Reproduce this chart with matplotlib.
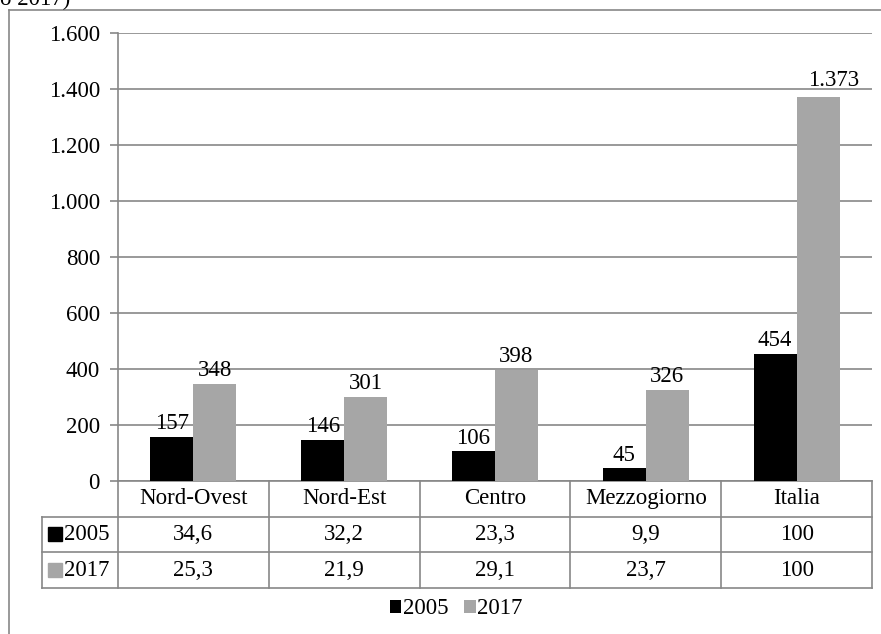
import matplotlib.pyplot as plt
from matplotlib.lines import Line2D
from matplotlib.patches import Rectangle

plt.rcParams['font.family'] = ['Liberation Serif', 'DejaVu Serif']
plt.rcParams['font.size'] = 16.5

regions = ['Nord-Ovest', 'Nord-Est', 'Centro', 'Mezzogiorno', 'Italia']
years = ['2005', '2017']
values_2005 = [157, 146, 106, 45, 454]
values_2017 = [348, 301, 398, 326, 1373]
share_2005 = ['34,6', '32,2', '23,3', '9,9', '100']
share_2017 = ['25,3', '21,9', '29,1', '23,7', '100']
yticks = [0, 200, 400, 600, 800, 1000, 1200, 1400, 1600]

black = '#000000'
grey = '#a6a6a6'
line_col = '#878787'
W, H = 881, 634


def fx(px):
    return px / W


def fy(py):
    return 1 - py / H


def it_num(v):
    return f'{v:,.0f}'.replace(',', '.')


fig = plt.figure(figsize=(8.81, 6.34), dpi=100)

# chart frame (runs past the right and bottom edges)
fig.add_artist(Line2D([fx(9), 1.0], [fy(10), fy(10)], color=line_col, lw=1.2))
fig.add_artist(Line2D([fx(9), fx(9)], [fy(10), 0.0], color=line_col, lw=1.2))
fig.text(0.0, fy(5), 'o 2017)', ha='left', va='baseline')

# bars
ax = fig.add_axes([fx(118), fy(481), fx(872) - fx(118), fy(33) - fy(481)])
x = list(range(len(regions)))
w = 0.285
b1 = ax.bar([i - w / 2 for i in x], values_2005, w, color=black, label=years[0], zorder=3)
b2 = ax.bar([i + w / 2 for i in x], values_2017, w, color=grey, label=years[1], zorder=3)
top = max(values_2017)
for bars, vals in ((b1, values_2005), (b2, values_2017)):
    for r, v in zip(bars, vals):
        # the tallest label is pushed right so it clears the top gridline label area
        dx, dy = (11, 4) if v == top else (0, 2)
        ax.annotate(it_num(v), (r.get_x() + r.get_width() / 2, v), xytext=(dx, dy),
                    textcoords='offset points', ha='center', va='bottom', zorder=4)

ax.set_xlim(-0.5, len(regions) - 0.5)
ax.set_ylim(0, 1600)
ax.set_yticks(yticks)
ax.set_yticklabels([it_num(v) for v in yticks])
ax.set_xticks([])
ax.yaxis.grid(True, color=line_col, lw=1.2, zorder=0)
ax.tick_params(axis='y', length=6, width=1.2, color=line_col, pad=7)
for s in ('top', 'right'):
    ax.spines[s].set_visible(False)
for s in ('left', 'bottom'):
    ax.spines[s].set_color(line_col)
    ax.spines[s].set_linewidth(1.2)

# data table below the bars
hdr = 76 / 151
tx = fig.add_axes([fx(42), fy(588), fx(872) - fx(42), fy(481) - fy(588)])
tx.set_xlim(-0.5 - hdr, len(regions) - 0.5)
tx.set_ylim(3, 0)
tx.axis('off')
xl, xr = -0.5 - hdr, len(regions) - 0.5
for yy in (1, 2, 3):
    tx.plot([xl, xr], [yy, yy], color=line_col, lw=1.2, clip_on=False)
tx.plot([xl, xl], [1, 3], color=line_col, lw=1.2, clip_on=False)
for i in range(len(regions) + 1):
    tx.plot([i - 0.5, i - 0.5], [0, 3], color=line_col, lw=1.2, clip_on=False)
for i, name in enumerate(regions):
    tx.text(i, 0.5, name, ha='center', va='center')
    tx.text(i, 1.5, share_2005[i], ha='center', va='center')
    tx.text(i, 2.5, share_2017[i], ha='center', va='center')
for row, (yr, col) in enumerate(zip(years, (black, grey)), start=1):
    tx.add_patch(Rectangle((xl + 0.04, row + 0.3), 0.09, 0.38, color=col, clip_on=False))
    tx.text(xl + 0.145, row + 0.5, yr, ha='left', va='center')

fig.legend(handles=[b1, b2], loc='center', bbox_to_anchor=(fx(456), fy(609)), ncol=2,
           frameon=False, handlelength=0.5, handleheight=0.5, handletextpad=0.05,
           columnspacing=0.7, borderpad=0)

fig.savefig('out.png', dpi=100)
